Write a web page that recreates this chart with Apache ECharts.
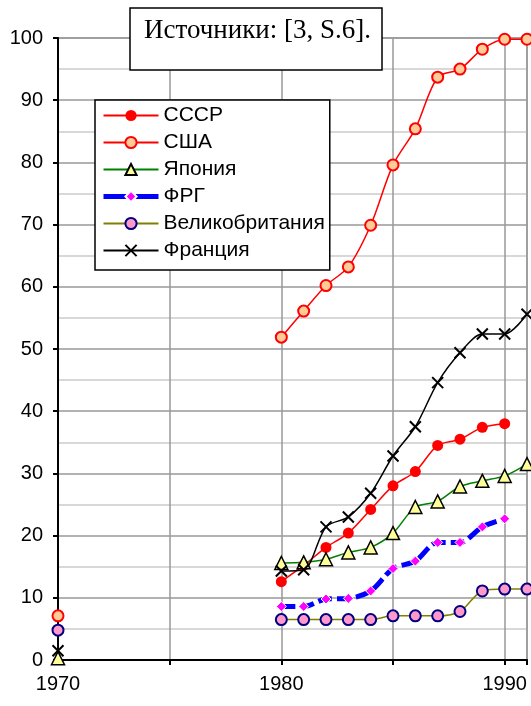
<!DOCTYPE html>
<html>
<head>
<meta charset="utf-8">
<script src="https://cdn.jsdelivr.net/npm/echarts@6/dist/echarts.min.js"></script>
<style>
  html, body { margin: 0; padding: 0; background: #fff; }
  #main { width: 531px; height: 706px; }
</style>
</head>
<body>
<div id="main"></div>
<script>
// годы и значения (читаются с картинки)
const years = [1970, 1980, 1981, 1982, 1983, 1984, 1985, 1986, 1987, 1988, 1989, 1990, 1991];
const ussr = [null, 12.6, 15.2, 18.1, 20.4, 24.2, 28.0, 30.3, 34.5, 35.5, 37.4, 38.0, null];
const usa = [7.1, 51.9, 56.1, 60.2, 63.2, 69.9, 79.6, 85.4, 93.7, 95.0, 98.2, 99.8, 99.8];
const japan = [0.3, 15.6, 15.7, 16.2, 17.3, 18.1, 20.4, 24.6, 25.5, 27.9, 28.8, 29.6, 31.5];
const frg = [null, 8.6, 8.6, 9.8, 9.9, 11.1, 14.7, 15.9, 18.9, 18.9, 21.4, 22.7, null];
const uk = [4.8, 6.5, 6.5, 6.5, 6.5, 6.5, 7.1, 7.1, 7.1, 7.8, 11.1, 11.4, 11.4];
const france = [1.5, 14.3, 14.5, 21.4, 23.0, 26.8, 32.8, 37.5, 44.6, 49.4, 52.4, 52.4, 55.6];

const names = ['СССР', 'США', 'Япония', 'ФРГ', 'Великобритания', 'Франция'];
const sourceText = 'Источники: [3, S.6].';

// пары [год, значение], разрыв линии если между годами пропуск
function pairs(values) {
  let out = [];
  let prev = null;
  for (let i = 0; i < years.length; i++) {
    if (values[i] == null) continue;
    if (prev != null && years[i] - prev > 1) out.push(['-', '-']);
    out.push([years[i], values[i]]);
    prev = years[i];
  }
  return out;
}

const font = 'Liberation Sans, Arial, sans-serif';
const X_PATH = 'path://M0,0L10,10M10,0L0,10';

function line(name, values, lineStyle, symbol, symbolSize, itemStyle) {
  return {
    name: name,
    type: 'line',
    data: pairs(values),
    smooth: 0.3,
    clip: false,
    symbol: symbol,
    symbolSize: symbolSize,
    lineStyle: lineStyle,
    itemStyle: itemStyle,
    emphasis: { disabled: true }
  };
}

// в легенде у ФРГ толстая сплошная линия
const legendData = names.map(n => n === 'ФРГ'
  ? { name: n, lineStyle: { color: '#0000ff', width: 5, type: 'solid' } }
  : { name: n });

const chart = echarts.init(document.getElementById('main'));
chart.setOption({
  animation: false,
  backgroundColor: '#fff',
  title: {
    text: sourceText,
    left: 130,
    top: 8,
    padding: [9, 11, 26, 14],
    borderColor: '#000',
    borderWidth: 1.5,
    backgroundColor: '#fff',
    textStyle: {
      fontFamily: 'Liberation Serif, Times New Roman, serif',
      fontWeight: 'normal',
      fontSize: 27,
      color: '#000'
    }
  },
  legend: {
    data: legendData,
    orient: 'vertical',
    left: 95,
    top: 100,
    itemWidth: 55,
    itemHeight: 14,
    itemGap: 6,
    padding: [5, 5, 9, 6],
    borderColor: '#000',
    borderWidth: 1.5,
    backgroundColor: '#fff',
    z: 10,
    textStyle: { fontFamily: font, fontSize: 21, color: '#000' }
  },
  grid: {
    left: 58, right: 4, top: 38, bottom: 46,
    show: true, borderColor: '#999', borderWidth: 1.5
  },
  xAxis: {
    type: 'value',
    min: 1970,
    max: 1991,
    interval: 5,
    axisLine: { lineStyle: { color: '#000', width: 2 } },
    axisTick: { length: 5, lineStyle: { color: '#000', width: 2 } },
    axisLabel: {
      margin: 14,
      fontFamily: font,
      fontSize: 20,
      color: '#000',
      formatter: v => (v % 10 === 0 ? String(v) : '')
    },
    splitLine: { show: true, lineStyle: { color: '#999', width: 1.5 } }
  },
  yAxis: {
    type: 'value',
    min: 0,
    max: 100,
    interval: 10,
    axisLine: { show: true, lineStyle: { color: '#000', width: 2 } },
    axisTick: { show: true, length: 5, lineStyle: { color: '#000', width: 2 } },
    axisLabel: { margin: 15, fontFamily: font, fontSize: 20, color: '#000' },
    splitLine: { show: true, lineStyle: { color: '#999', width: 1.5 } },
    minorTick: { show: false, splitNumber: 2 },
    minorSplitLine: { show: true, lineStyle: { color: '#ccc', width: 1.5 } }
  },
  series: [
    line(names[0], ussr, { color: '#ff0000', width: 1.5 }, 'circle', 11,
      { color: '#ff0000' }),
    line(names[1], usa, { color: '#ff0000', width: 1.5 }, 'circle', 11,
      { color: '#ffcc99', borderColor: '#ff0000', borderWidth: 2 }),
    line(names[2], japan, { color: '#008000', width: 1.5 }, 'triangle', 13,
      { color: '#ffff99', borderColor: '#000', borderWidth: 1.5 }),
    line(names[3], frg, { color: '#0000ff', width: 5, type: [14, 5] }, 'diamond', 10,
      { color: '#ff00ff', borderColor: '#fff', borderWidth: 1 }),
    line(names[4], uk, { color: '#808000', width: 1.5 }, 'circle', 11,
      { color: '#ff99cc', borderColor: '#000080', borderWidth: 2 }),
    line(names[5], france, { color: '#000', width: 1.5 }, X_PATH, 11,
      { color: '#000', borderColor: '#000', borderWidth: 2 })
  ]
});
</script>
</body>
</html>
